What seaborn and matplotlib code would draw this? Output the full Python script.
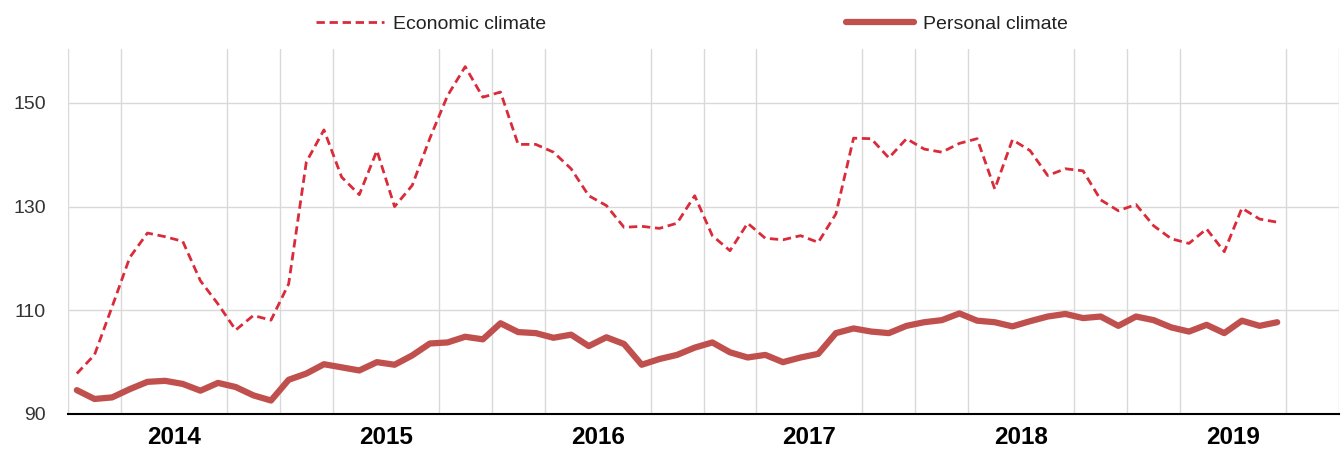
import pandas as pd
import numpy as np
import matplotlib.pyplot as plt
import seaborn as sns
from matplotlib import font_manager

years = ["2014", "2015", "2016", "2017", "2018", "2019"]

# monthly values, Jan 2014 - Sep 2019
economic = [97.8, 101.4, 110.7, 120.2, 124.9, 124.2, 123.3, 115.7, 111.2, 106.2, 109.0, 108.1,
            115.1, 138.6, 144.8, 135.7, 132.3, 140.8, 130.0, 134.1, 143.2, 151.4, 157.0, 151.1,
            152.1, 142.0, 142.0, 140.5, 137.3, 132.1, 130.2, 126.0, 126.2, 125.8, 126.8, 132.1,
            124.4, 121.5, 126.8, 123.9, 123.6, 124.4, 123.1, 128.6, 143.2, 143.1, 139.4, 143.1,
            141.1, 140.5, 142.2, 143.1, 133.4, 142.9, 140.8, 136.0, 137.3, 136.9, 131.3, 129.2,
            130.4, 126.3, 123.8, 122.9, 125.7, 121.3, 129.7, 127.6, 127.0]
personal = [94.6, 92.9, 93.2, 94.8, 96.2, 96.4, 95.8, 94.5, 96.0, 95.2, 93.6, 92.6,
            96.6, 97.8, 99.6, 99.0, 98.4, 100.0, 99.5, 101.3, 103.6, 103.8, 104.9, 104.4,
            107.5, 105.8, 105.6, 104.7, 105.3, 103.1, 104.8, 103.5, 99.5, 100.6, 101.4, 102.8,
            103.8, 101.9, 100.9, 101.4, 100.0, 100.9, 101.6, 105.6, 106.5, 105.9, 105.6, 107.0,
            107.7, 108.1, 109.4, 108.0, 107.7, 106.9, 107.9, 108.8, 109.3, 108.5, 108.8, 107.0,
            108.8, 108.1, 106.7, 105.9, 107.2, 105.6, 108.0, 107.0, 107.7]

df = pd.DataFrame({
    "month": np.arange(len(economic)),
    "Economic climate": economic,
    "Personal climate": personal,
})

sns.set_theme(style="whitegrid")

# narrow font if there is one, else plain Liberation Sans a bit smaller
installed = {f.name for f in font_manager.fontManager.ttflist}
if "Liberation Sans Narrow" in installed:
    plt.rcParams['font.family'] = ['Liberation Sans Narrow', 'DejaVu Sans']
    fs = 18
else:
    plt.rcParams['font.family'] = ['Liberation Sans', 'DejaVu Sans']
    fs = 14

fig = plt.figure(figsize=(13.42, 4.55), dpi=100)
ax = fig.add_axes([68/1342, 41/455, 1271/1342, 365/455])

sns.lineplot(data=df, x="month", y="Economic climate", ax=ax, color="#d92b3a",
             linewidth=2, label="Economic climate")
ax.lines[-1].set_dashes((3, 1.7))
sns.lineplot(data=df, x="month", y="Personal climate", ax=ax, color="#c0504d",
             linewidth=4.5, label="Personal climate")

n_months = 12 * len(years)
ax.set_xlim(-0.5, n_months - 0.5)
ax.set_ylim(90, 160.4)
ax.set_yticks([90, 110, 130, 150])
ax.set_xticks(np.arange(len(years)) * 12 + 5.5)
ax.set_xticklabels(years, fontweight="bold", fontsize=17.5, color="black",
                   family=['Liberation Sans', 'DejaVu Sans'])
ax.set_xticks(np.arange(-0.5, n_months, 3), minor=True)
ax.tick_params(axis="y", labelsize=fs, labelcolor="#333333", length=0, pad=16)
ax.tick_params(axis="x", which="both", length=0, pad=9)
ax.set_xlabel("")
ax.set_ylabel("")

ax.grid(False)
ax.grid(axis="y", which="major", color="#d9d9d9", linewidth=1)
ax.grid(axis="x", which="minor", color="#d9d9d9", linewidth=1)
for s in ["top", "left", "right"]:
    ax.spines[s].set_visible(False)
ax.spines["bottom"].set_color("black")
ax.spines["bottom"].set_linewidth(1.5)

px = fs * 100 / 72
handles, labels = ax.get_legend_handles_labels()
ax.get_legend().remove()
fig.legend(handles, labels, loc="center", bbox_to_anchor=(0.5153, 0.947), ncol=2,
           frameon=False, fontsize=fs, handlelength=68 / px, handletextpad=9 / px,
           columnspacing=300 / px, labelcolor="#222222")

fig.savefig("out.png", dpi=100, facecolor="white")
